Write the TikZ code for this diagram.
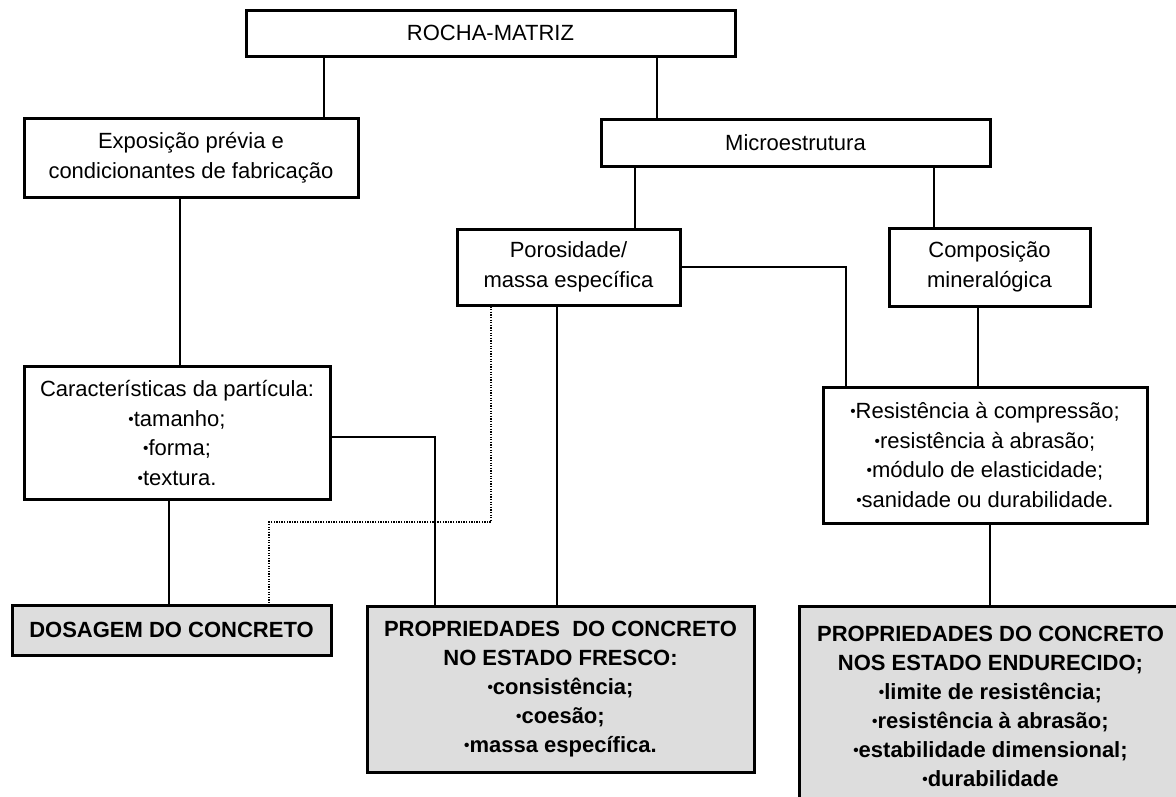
\documentclass[tikz,border=0pt]{standalone}
\usepackage{fontspec}
\setmainfont{Liberation Sans}
\definecolor{boxgray}{HTML}{DDDDDD}
\newcommand\fsreg{\fontsize{22}{29.5}\selectfont}
\newcommand\fsbold{\fontsize{22}{29}\selectfont\bfseries}
\newcommand\bul{\raisebox{0.08em}{\scalebox{0.7}{•}}}
\tikzset{
  box/.style={draw, line width=3pt, inner sep=0pt, align=center, font=\fsreg, fill=white},
  gbox/.style={box, fill=boxgray, font=\fsbold},
  conn/.style={line width=1.3pt},
  dotconn/.style={line width=2pt, dash pattern=on 1.3pt off 1.3pt}
}
\begin{document}
\begin{tikzpicture}[x=1pt, y=-1pt]
\useasboundingbox (0,0) rectangle (1176,796);
\clip (0,0) rectangle (1176,796);
\fill[white] (0,0) rectangle (1176,796);

% helper coordinates for connector positions
\coordinate (x324) at (324,0);
\coordinate (x657) at (657,0);
\coordinate (x180) at (180,0);
\coordinate (x635) at (635,0);
\coordinate (x934) at (934,0);
\coordinate (x846) at (846,0);
\coordinate (x978) at (978,0);
\coordinate (x557) at (557,0);
\coordinate (x169) at (169,0);
\coordinate (x990) at (990,0);
\coordinate (d1) at (491,522);
\coordinate (d2) at (269,522);
\coordinate (c1) at (435,437);

% nodes
\node[box, minimum width=489pt, minimum height=46pt] (rocha) at (490.5,33) {ROCHA-MATRIZ};
\node[box, minimum width=334pt, minimum height=79pt] (expo) at (191,157.5) {Exposição prévia e\\condicionantes de fabricação};
\node[box, minimum width=389pt, minimum height=47pt] (micro) at (795.5,142.5) {Microestrutura};
\node[box, minimum width=223pt, minimum height=76pt] (poro) at (568.5,267) {Porosidade/\\massa específica};
\node[box, minimum width=201pt, minimum height=78pt] (comp) at (989.5,267) {Composição\\mineralógica};
\node[box, minimum width=306pt, minimum height=133pt] (carac) at (177,433) {Características da partícula:\\\bul tamanho;\\\bul forma;\\\bul textura.};
\node[box, minimum width=324pt, minimum height=136pt] (resist) at (985,455) {\bul Resistência à compressão;\\\bul resistência à abrasão;\\\bul módulo de elasticidade;\\\bul sanidade ou durabilidade.};
\node[gbox, minimum width=319pt, minimum height=50pt] (dosag) at (171.5,630) {DOSAGEM DO CONCRETO};
\node[gbox, minimum width=387pt, minimum height=166pt] (fresco) at (560.5,689) {PROPRIEDADES~ DO CONCRETO\\NO ESTADO FRESCO:\\\bul consistência;\\\bul coesão;\\\bul massa específica.};
\node[gbox, minimum width=383pt, minimum height=200pt] (endur) at (990.5,706) {PROPRIEDADES DO CONCRETO\\NOS ESTADO ENDURECIDO;\\\bul limite de resistência;\\\bul resistência à abrasão;\\\bul estabilidade dimensional;\\\bul durabilidade};

% connectors between boxes
\draw[conn] (rocha.south -| x324) -- (expo.north -| x324);
\draw[conn] (rocha.south -| x657) -- (micro.north -| x657);
\draw[conn] (expo.south -| x180) -- (carac.north -| x180);
\draw[conn] (micro.south -| x635) -- (poro.north -| x635);
\draw[conn] (micro.south -| x934) -- (comp.north -| x934);
\draw[conn] (poro.east) -| (resist.north -| x846);
\draw[conn] (comp.south -| x978) -- (resist.north -| x978);
\draw[conn] (poro.south -| x557) -- (fresco.north -| x557);
\draw[dotconn] (poro.south -| d1) -- (d1) -- (d2) -- (dosag.north -| d2);
\draw[conn] (carac.east |- c1) -- (c1) -- (fresco.north -| c1);
\draw[conn] (carac.south -| x169) -- (dosag.north -| x169);
\draw[conn] (resist.south -| x990) -- (endur.north -| x990);
\end{tikzpicture}
\end{document}
